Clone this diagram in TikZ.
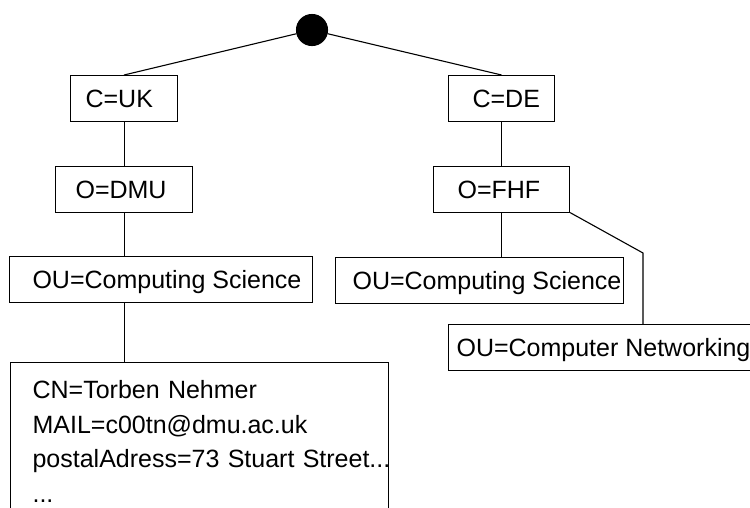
\documentclass[tikz,border=0pt]{standalone}
\usepackage{fontspec}
\setmainfont{Liberation Sans}
\newcommand{\bxt}[3]{\makebox[#1pt][l]{\hspace*{#2pt}#3}}
\begin{document}
\begin{tikzpicture}[x=1pt,y=-1pt,
  line width=1.1pt,
  ldapbox/.style={draw, anchor=north west, inner sep=0pt, minimum height=45.5pt,
    text height=18pt, text depth=0pt, font=\fontsize{25}{30}\selectfont},
  entrybox/.style={draw, anchor=north west, inner xsep=22pt, inner ysep=0pt,
    text width=334pt, align=left, font=\fontsize{25}{34.5}\selectfont},
  rootdot/.style={circle, fill=black, draw=black, minimum size=31pt, inner sep=0pt},
  conn/.style={draw=black}]
\useasboundingbox (0,0) rectangle (750,507);
\clip (0,0) rectangle (750,507);

\node[rootdot] (root) at (312,30) {};

\node[ldapbox] (cuk) at (70,75) {\bxt{107}{15}{C=UK}};
\node[ldapbox] (dmu) at (55,166) {\bxt{137}{20}{O=DMU}};
\node[ldapbox] (oul) at (9,256) {\bxt{303}{23}{OU=Computing Science}};
\node[entrybox] (cn) at (10,362) {\rule{0pt}{36pt}\mbox{CN=Torben Nehmer}\\
  \mbox{MAIL=c00tn@dmu.ac.uk}\\
  \mbox{postalAdress=73 Stuart Street...}\\
  \mbox{...}\rule[-40pt]{0pt}{0pt}};

\node[ldapbox] (cde) at (448,75) {\bxt{106}{24}{C=DE}};
\node[ldapbox] (fhf) at (433,166) {\bxt{136}{24}{O=FHF}};
\node[ldapbox] (our) at (335,257) {\bxt{288}{17}{OU=Computing Science}};
\node[ldapbox] (net) at (448,324) {\bxt{306}{8}{OU=Computer Networking}};

\coordinate (bend) at (643,253);

\draw[conn] (root) -- (cuk.north);
\draw[conn] (root) -- (cde.north);
\draw[conn] (cuk.south) -- (cuk.south |- dmu.north);
\draw[conn] (dmu.south) -- (dmu.south |- oul.north);
\draw[conn] (dmu.south |- oul.south) -- (dmu.south |- cn.north);
\draw[conn] (cde.south) -- (cde.south |- fhf.north);
\draw[conn] (fhf.south) -- (fhf.south |- our.north);
\draw[conn] (fhf.south east) -- (bend) -- (bend |- net.north);
\end{tikzpicture}
\end{document}
